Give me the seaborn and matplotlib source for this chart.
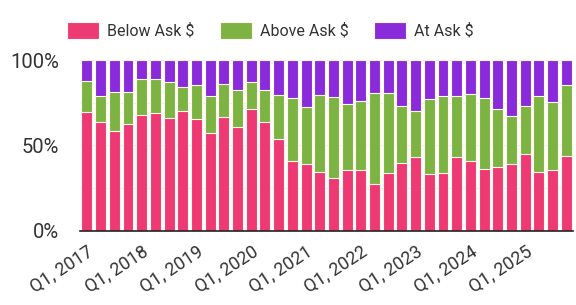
import numpy as np
import pandas as pd
import matplotlib
matplotlib.use("Agg")
import matplotlib.pyplot as plt
import seaborn as sns

# ── data (share of sales, %) ──────────────────────────
years = list(range(2017, 2026))
quarters = [f"Q{q}, {y}" for y in years for q in range(1, 5)]

below_ask = [69.8, 63.9, 58.7, 62.6, 67.6, 68.8, 65.9, 70.2, 65.6, 57.5, 66.8, 60.6,
             71.2, 63.9, 53.6, 40.9, 39.0, 34.3, 30.8, 35.7, 35.7, 27.5, 34.1, 40.0,
             43.1, 33.1, 33.7, 43.1, 40.9, 36.1, 37.2, 39.0, 44.8, 34.7, 35.7, 43.9]
above_ask = [17.9, 15.2, 22.8, 18.9, 21.1, 19.9, 21.1, 14.2, 20.0, 21.6, 19.0, 21.9,
             15.8, 18.6, 25.9, 36.7, 33.3, 45.2, 47.4, 38.6, 40.5, 53.0, 46.4, 33.1,
             27.1, 44.1, 45.2, 35.8, 39.0, 41.5, 34.1, 28.3, 28.5, 44.2, 39.6, 41.5]
at_ask = [12.3, 20.9, 18.5, 18.5, 11.3, 11.3, 13.0, 15.6, 14.4, 20.9, 14.2, 17.5,
          13.0, 17.5, 20.5, 22.4, 27.7, 20.5, 21.8, 25.7, 23.8, 19.5, 19.5, 26.9,
          29.8, 22.8, 21.1, 21.1, 20.1, 22.4, 28.7, 32.7, 26.7, 21.1, 24.7, 14.6]

series = ["Below Ask $", "Above Ask $", "At Ask $"]
colors = ["#EE3A74", "#7CB342", "#8A2BDB"]

df = pd.DataFrame({"quarter": quarters,
                   "Below Ask $": below_ask,
                   "Above Ask $": above_ask,
                   "At Ask $": at_ask})
# cumulative tops for stacking
cum = df[series].cumsum(axis=1)

sns.set_theme(style="white")
plt.rcParams["font.family"] = ["Roboto", "DejaVu Sans"]

fig = plt.figure(figsize=(5.76, 3.05), dpi=100)
ax = fig.add_axes([0.139, 0.243, 0.856, 0.560])

# draw from the tallest stack down so each segment shows
for name, color in reversed(list(zip(series, colors))):
    sns.barplot(x=df["quarter"], y=cum[name], color=color, width=0.8,
                saturation=1, edgecolor="#fff8ec", linewidth=0.8, ax=ax,
                label=name, zorder=2)
ax.get_legend().remove()

ax.set_xlim(-0.5, len(quarters) - 0.5)
ax.set_ylim(0, 100)
ax.set_yticks([0, 50, 100])
ax.set_yticklabels(["0%", "50%", "100%"])
ax.set_yticks([25, 75], minor=True)
ax.grid(axis="y", which="both", color="#eeeeee", lw=0.8, zorder=0)
ax.set_axisbelow(True)

ticks = list(range(0, len(quarters), 4))
ax.set_xticks(ticks)
ax.set_xticklabels([quarters[i] for i in ticks], rotation=33, ha="right",
                   rotation_mode="anchor")
ax.set_xlabel("")
ax.set_ylabel("")
ax.tick_params(axis="both", length=0, colors="#333333")
ax.tick_params(axis="x", pad=8, labelsize=13)
ax.tick_params(axis="y", pad=15, labelsize=14.5)

for s in ["top", "right", "left"]:
    ax.spines[s].set_visible(False)
ax.spines["bottom"].set_color("#222222")
ax.spines["bottom"].set_linewidth(1.2)

handles, labels = ax.get_legend_handles_labels()
order = [labels.index(s) for s in series]
fig.legend([handles[i] for i in order], series, loc="center",
           bbox_to_anchor=(0.47, 0.9), ncol=3, frameon=False, fontsize=11.5,
           handlelength=2.0, handleheight=1.2, columnspacing=1.6,
           handletextpad=0.5, labelcolor="#333333")

fig.savefig("out.png", dpi=100)
